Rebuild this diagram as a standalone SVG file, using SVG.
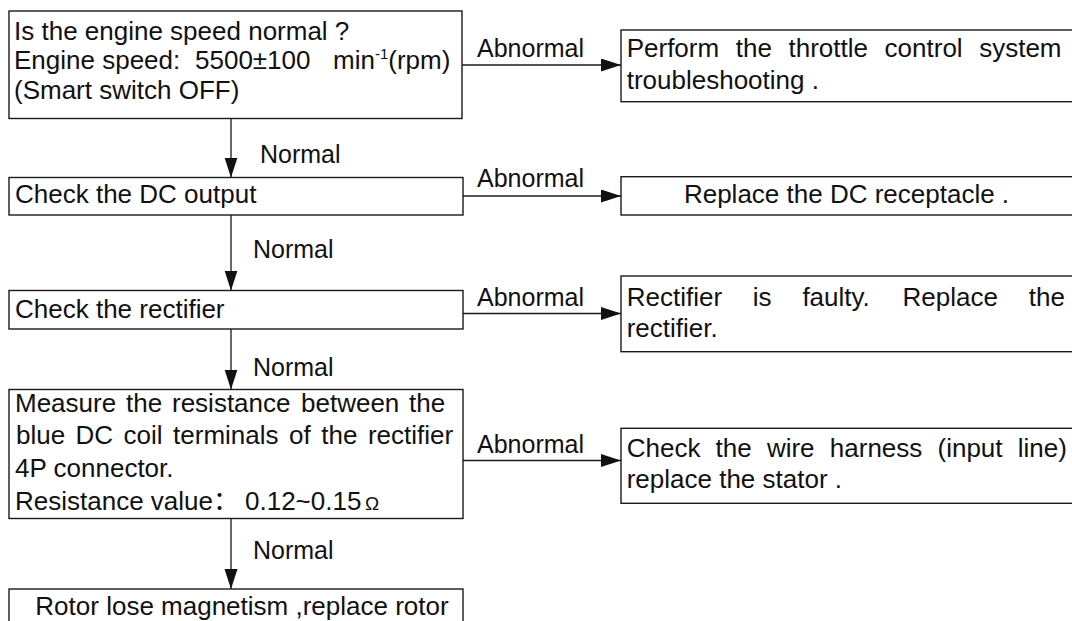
<svg xmlns="http://www.w3.org/2000/svg" width="1072" height="621" viewBox="0 0 1072 621">
<style>
.box{fill:#fff;stroke:#1a1a1a;stroke-width:1.4}
.t{font-family:"Liberation Sans",Arial,"Noto Sans CJK SC",sans-serif;font-size:26px;fill:#111}
.lbl{font-size:25px}
.conn{stroke:#1a1a1a;stroke-width:1.3;fill:none;marker-end:url(#ah)}
</style>
<defs>
<marker id="ah" markerUnits="userSpaceOnUse" markerWidth="22" markerHeight="14" refX="20" refY="6.5" orient="auto">
<path d="M0,0 L20,6.5 L0,13 z" fill="#111"/>
</marker>
</defs>
<rect width="1072" height="621" fill="#fff"/>

<g id="connectors">
<path class="conn" d="M231,118.5 V177.5"/>
<path class="conn" d="M231,215 V290.5"/>
<path class="conn" d="M231,329 V389.5"/>
<path class="conn" d="M231,518.5 V589"/>
<path class="conn" d="M462,65 H621"/>
<path class="conn" d="M463,196 H621"/>
<path class="conn" d="M463,313.5 H621"/>
<path class="conn" d="M463,460.5 H621"/>
<text class="t lbl" x="260" y="163">Normal</text>
<text class="t lbl" x="253" y="258">Normal</text>
<text class="t lbl" x="253" y="376">Normal</text>
<text class="t lbl" x="253" y="559">Normal</text>
<text class="t lbl" x="477" y="56.7">Abnormal</text>
<text class="t lbl" x="477" y="186.7">Abnormal</text>
<text class="t lbl" x="477" y="306">Abnormal</text>
<text class="t lbl" x="477" y="453.3">Abnormal</text>
</g>

<g id="n1">
<rect class="box" x="9" y="11" width="453" height="107.5"/>
<text class="t" x="14" y="39.5">Is the engine speed normal ?</text>
<text class="t" y="69"><tspan x="14">Engine speed:</tspan><tspan x="195">5500±100</tspan><tspan x="333">min</tspan><tspan dy="-10" font-size="15">-1</tspan><tspan dy="10">(rpm)</tspan></text>
<text class="t" x="14" y="99">(Smart switch OFF)</text>
</g>

<g id="n2">
<rect class="box" x="9" y="177.5" width="454" height="37.5"/>
<text class="t" x="15" y="203">Check the DC output</text>
</g>

<g id="n3">
<rect class="box" x="9" y="290.5" width="454" height="38.5"/>
<text class="t" x="15" y="317.5">Check the rectifier</text>
</g>

<g id="n4">
<rect class="box" x="9" y="389.5" width="454" height="129"/>
<text class="t" y="411.5"><tspan x="15">Measure</tspan> <tspan x="126">the</tspan> <tspan x="172">resistance</tspan> <tspan x="301">between</tspan> <tspan x="409">the</tspan></text>
<text class="t" y="443.5"><tspan x="16">blue</tspan> <tspan x="75.6">DC</tspan> <tspan x="123.6">coil</tspan> <tspan x="173.1">terminals</tspan> <tspan x="289.1">of</tspan> <tspan x="321.3">the</tspan> <tspan x="367.9">rectifier</tspan></text>
<text class="t" x="15" y="477">4P connector.</text>
<text class="t" y="510"><tspan x="15">Resistance value：</tspan><tspan x="245">0.12~0.15</tspan><tspan x="365" font-size="19">Ω</tspan></text>
</g>

<g id="n5">
<rect class="box" x="9" y="589" width="454" height="50"/>
<text class="t" x="242" y="615" text-anchor="middle">Rotor lose magnetism ,replace rotor</text>
</g>

<g id="r1">
<rect class="box" x="621" y="30" width="460" height="71.7"/>
<text class="t" y="56.7"><tspan x="626.7">Perform</tspan> <tspan x="735.8">the</tspan> <tspan x="788.5">throttle</tspan> <tspan x="884.6">control</tspan> <tspan x="979.2">system</tspan></text>
<text class="t" x="626.7" y="89">troubleshooting .</text>
</g>

<g id="r2">
<rect class="box" x="621" y="176.7" width="460" height="38.3"/>
<text class="t" x="846.5" y="203.3" text-anchor="middle">Replace the DC receptacle .</text>
</g>

<g id="r3">
<rect class="box" x="621" y="276" width="460" height="75.7"/>
<text class="t" y="305.5"><tspan x="626.7">Rectifier</tspan> <tspan x="752.8">is</tspan> <tspan x="802.4">faulty.</tspan> <tspan x="902.6">Replace</tspan> <tspan x="1028.8">the</tspan></text>
<text class="t" x="626.7" y="337.3">rectifier.</text>
</g>

<g id="r4">
<rect class="box" x="621" y="428.3" width="460" height="75"/>
<text class="t" y="457.3"><tspan x="626.7">Check</tspan> <tspan x="715.6">the</tspan> <tspan x="766.9">wire</tspan> <tspan x="829.8">harness</tspan> <tspan x="937.5">(input</tspan> <tspan x="1017.7">line)</tspan></text>
<text class="t" x="626.7" y="488.3">replace the stator .</text>
</g>
</svg>
